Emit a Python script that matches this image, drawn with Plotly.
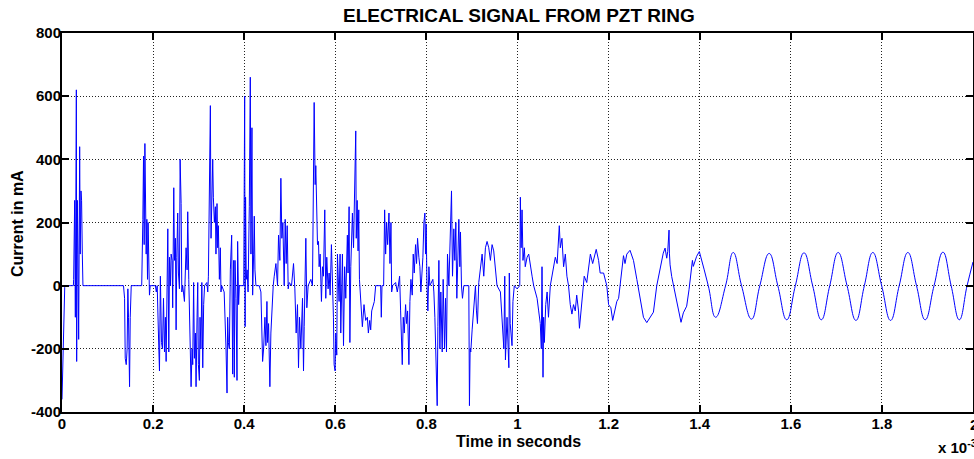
import plotly.graph_objects as go

# ---------------- data (time in ms, current in mA) ----------------
tA = [0.000, 0.004, 0.006, 0.008, 0.025, 0.0256, 0.0278, 0.0293, 0.0300, 0.0315,
      0.0322, 0.0337, 0.0350, 0.0366, 0.0388, 0.0400, 0.0417, 0.0430, 0.0446, 0.0460,
      0.1350, 0.1374, 0.1388, 0.1410, 0.1430, 0.1446, 0.1460, 0.1483, 0.1498, 0.1520,
      0.1750, 0.1760, 0.1775, 0.1790, 0.1804, 0.1820, 0.1834, 0.1848, 0.1863, 0.1877,
      0.1890, 0.1906, 0.1920, 0.1936, 0.2050, 0.2070, 0.2090, 0.2126, 0.2140, 0.2160,
      0.2184, 0.2206, 0.2228, 0.2250, 0.2270, 0.2286, 0.2300, 0.2323, 0.2345, 0.2360,
      0.2380, 0.2396, 0.2418, 0.2430, 0.2454, 0.2469, 0.2490, 0.2505, 0.2520, 0.2540,
      0.2556, 0.2578, 0.2593, 0.2615, 0.2630, 0.2650, 0.2688, 0.2724, 0.2746, 0.2760,
      0.2783, 0.2797, 0.2810, 0.2834, 0.2856, 0.2870, 0.2890, 0.2907, 0.2929, 0.2943,
      0.2965, 0.2980, 0.2994, 0.3016, 0.3030, 0.3050, 0.3070, 0.3090, 0.3110, 0.3130,
      0.3180, 0.3200]
iA = [-360, -150, -5, 0, 0, 20, 270, -100, 170, 620,
      -240, 270, 100, -170, 440, 100, 300, 270, 100, 0,
      0, -40, -230, -250, -200, -10, -100, -320, -100, 0,
      0, 200, 210, 410, 130, 450, 200, 100, 210, 20,
      200, 50, -30, 0, 0, -20, 0, -200, -270, 30,
      -180, -200, -40, -210, -100, -240, -50, 180, -210, 90,
      0, 100, 80, -70, 310, 80, 150, -140, 90, 230,
      40, -10, 400, 260, -20, 0, -50, 120, 50, 234,
      20, -80, -150, -320, -200, -250, 10, -230, -150, -320,
      -100, 10, -250, -300, -100, -200, 10, -260, -60, 0,
      10, -20]

tB = [0.3214, 0.3236, 0.3257, 0.3272, 0.3287, 0.3309, 0.3323, 0.3345, 0.3367, 0.3380,
      0.3403, 0.3418, 0.3433, 0.3455, 0.3476, 0.3490, 0.3506, 0.3560, 0.3601, 0.3623,
      0.3637, 0.3652, 0.3674, 0.3696, 0.3725, 0.3747, 0.3769, 0.3783, 0.3798, 0.3820,
      0.3842, 0.3856, 0.3878, 0.3893, 0.3990, 0.4000, 0.4010, 0.4020, 0.4030, 0.4045,
      0.4065, 0.4085, 0.4112, 0.4134, 0.4148, 0.4170, 0.4185, 0.4207, 0.4221, 0.4236,
      0.4258, 0.4330, 0.4367, 0.4404, 0.4426, 0.4455, 0.4477, 0.4499, 0.4513, 0.4535,
      0.4564, 0.4586, 0.4608, 0.4637, 0.4659, 0.4696, 0.4732, 0.4754, 0.4783, 0.4805,
      0.4827, 0.4849, 0.4878, 0.4900, 0.4922, 0.4944, 0.4966, 0.4988, 0.5039, 0.5083,
      0.5112, 0.5141, 0.5170, 0.5192, 0.5214, 0.5244, 0.5280, 0.5302, 0.5317, 0.5353,
      0.5375, 0.5404, 0.5463, 0.5499, 0.5536, 0.5558, 0.5572, 0.5594, 0.5609, 0.5631,
      0.5645, 0.5667, 0.5696, 0.5718, 0.5740, 0.5769, 0.5791, 0.5813, 0.5842, 0.5864,
      0.5886, 0.5915, 0.5937, 0.5959, 0.5974, 0.5996, 0.6010, 0.6032, 0.6047, 0.6083,
      0.6105, 0.6120, 0.6157, 0.6180, 0.6205, 0.6230, 0.6265, 0.6280, 0.6303, 0.6320,
      0.6340, 0.6376, 0.6400, 0.6425, 0.6449, 0.6460, 0.6480, 0.6500, 0.6515, 0.6530]
iB = [30, 290, 570, 150, 250, 400, 280, 200, 250, 100,
      260, 120, 190, 20, 120, -20, 0, -20, -200, -340,
      -100, -180, -200, 50, 160, -280, 80, -290, 80, -40,
      -300, 140, -60, 0, 0, 300, 600, -130, 280, 20,
      50, -20, 250, 660, 100, 500, -30, 100, 220, 50,
      0, 0, -20, -240, -200, -100, -190, -50, -180, -120,
      -320, -150, -60, 0, 30, 70, 0, 160, 80, 340,
      150, 200, 0, 210, 70, 190, -10, 10, 0, 70,
      -10, -150, -60, -260, -100, -200, -40, -270, -130, 150,
      -70, 0, 20, 0, 580, 320, 380, 180, 130, 140,
      60, 100, -50, 60, 30, 240, -40, 90, -10, 40,
      -30, 130, 20, -100, -250, -270, -150, -220, 100, -50,
      100, -150, 100, -190, 60, -40, 160, 40, 250, -180,
      60, 230, 120, 290, 490, 150, 270, 110, 240, 20]

tC = [0.6565, 0.6594, 0.6630, 0.6667, 0.6704, 0.6726, 0.6755, 0.6777, 0.6799, 0.6828,
      0.6857, 0.6886, 0.6996, 0.7010, 0.7025, 0.7061, 0.7083, 0.7105, 0.7127, 0.7149,
      0.7178, 0.7200, 0.7222, 0.7237, 0.7259, 0.7324, 0.7361, 0.7383, 0.7412, 0.7434,
      0.7456, 0.7470, 0.7492, 0.7514, 0.7543, 0.7565, 0.7587, 0.7616, 0.7638, 0.7660,
      0.7689, 0.7711, 0.7733, 0.7762, 0.7784, 0.7806, 0.7835, 0.7857, 0.7879, 0.7901,
      0.7923, 0.7945, 0.7967, 0.7981, 0.7996, 0.8010, 0.8032, 0.8055, 0.8076, 0.8142,
      0.8164, 0.8186, 0.8201, 0.8222, 0.8237, 0.8252, 0.8274, 0.8296, 0.8317, 0.8347,
      0.8368, 0.8398, 0.8420, 0.8441, 0.8463, 0.8493, 0.8529, 0.8551, 0.8573, 0.8602,
      0.8624, 0.8646, 0.8668, 0.8690, 0.8712, 0.8734, 0.8748, 0.8770, 0.8792, 0.8821,
      0.8931, 0.8945, 0.8960, 0.8974, 0.9004, 0.9040, 0.9077, 0.9099, 0.9121, 0.9150,
      0.9186, 0.9223, 0.9259, 0.9296, 0.9332, 0.9369, 0.9405, 0.9442, 0.9478]
iC = [-60, -130, -60, -110, -100, -150, -110, -140, -80, -60,
      -50, 0, 0, -100, 0, 0, 240, 100, 200, 130,
      230, 70, 200, -20, 0, 10, -20, 0, 30, -80,
      -200, -250, -100, -150, -60, -120, -80, -250, -50, 20,
      -30, 100, 40, 130, 70, 150, 90, 60, -20, 30,
      90, 200, 230, 100, 195, 20, -80, 60, 0, 20,
      -20, -100, -200, -300, -380, -130, 80, -200, -20, -210,
      20, -200, -40, -210, 100, 0, 200, 300, 30, 180,
      80, 200, -40, 60, 210, 60, 170, 0, -40, 0,
      0, -380, -200, -210, -140, -60, 0, -80, -120, 10,
      60, 100, 30, 120, 140, 120, 80, 130, 110]

tD = [0.9550, 0.9625, 0.9660, 0.9700, 0.9720, 0.9735, 0.9770, 0.9810, 0.9820, 0.9840,
      0.9880, 0.9900, 0.9930, 0.9990, 1.0050, 1.0063, 1.0080, 1.0100, 1.0120, 1.0150,
      1.0170, 1.0210, 1.0246, 1.0280, 1.0320, 1.0355, 1.0390, 1.0430, 1.0465, 1.0500,
      1.0523, 1.0538, 1.0560, 1.0574, 1.0590, 1.0620, 1.0650, 1.0680, 1.0720, 1.0757,
      1.0790, 1.0830, 1.0870, 1.0918, 1.0940, 1.0976, 1.1012, 1.1050, 1.1085, 1.1120,
      1.1158, 1.1195, 1.1230, 1.1268, 1.1300, 1.1340, 1.1360, 1.1390, 1.1436, 1.1465,
      1.1520, 1.1560, 1.1600, 1.1650, 1.1684, 1.1728, 1.1780, 1.1815, 1.1890, 1.1960,
      1.2000, 1.2050, 1.2090, 1.2145, 1.2180, 1.2220, 1.2254, 1.2290, 1.2327, 1.2360,
      1.2400, 1.2470, 1.2546, 1.2620, 1.2690, 1.2765, 1.2838, 1.2910, 1.2984, 1.3057,
      1.3108, 1.3166, 1.3200, 1.3240, 1.3276, 1.3298, 1.3327, 1.3335, 1.3350, 1.3385,
      1.3458, 1.3531, 1.3590, 1.3641, 1.3714, 1.3765, 1.3810, 1.3840, 1.3860, 1.3933,
      1.3992]
iD = [0, -20, -120, -200, 30, -235, -100, -260, 40, -120,
      -190, -50, 0, -10, 0, 280, 120, 240, 80, 120,
      60, 90, 100, 60, 30, 0, -20, -40, -80, -120,
      -200, 60, -290, -100, -180, -60, -20, -100, 0, 30,
      60, 90, 70, 190, 120, 150, 60, 100, 30, 0,
      -60, -90, -60, -80, -30, -80, -135, -80, -20, 30,
      10, 60, 100, 70, 90, 115, 80, 40, 40, 0,
      -60, -70, -110, -70, -50, -40, 0, 50, 95, 70,
      100, 112, 80, 20, -40, -100, -117, -100, -84, 0,
      39, 77, 103, 119, 87, 108, 176, 103, 66, 29,
      -24, -81, -116, -86, -65, -13, 45, 80, 61, 93,
      108]

# steady oscillation: peaks, zero crossings and troughs
tE = [1.3992, 1.4188, 1.4349, 1.4568, 1.4736, 1.4919, 1.5138, 1.5320, 1.5525, 1.5715,
      1.5910, 1.6100, 1.6290, 1.6480, 1.6670, 1.6855, 1.7040, 1.7235, 1.7430, 1.7615,
      1.7800, 1.7995, 1.8190, 1.8380, 1.8570, 1.8760, 1.8950, 1.9145, 1.9340, 1.9520,
      1.9700, 1.9870, 2.0000]
iE = [108, 0, -100, 0, 105, 0, -106, 0, 102, 0,
      -108, 0, 104, 0, -108, 0, 105, 0, -110, 0,
      105, 0, -110, 0, 105, 0, -108, 0, 106, 0,
      -108, 0, 75]

x_ticks = [0, 0.2, 0.4, 0.6, 0.8, 1.0, 1.2, 1.4, 1.6, 1.8, 2.0]
x_labels = ["0", "0.2", "0.4", "0.6", "0.8", "1", "1.2", "1.4", "1.6", "1.8", "2"]
y_ticks = [-400, -200, 0, 200, 400, 600, 800]
y_labels = ["-400", "-200", "0", "200", "400", "600", "800"]

for a, b in [(tA, iA), (tB, iB), (tC, iC), (tD, iD), (tE, iE)]:
    assert len(a) == len(b)

t_noisy = tA + tB + tC + tD
i_noisy = iA + iB + iC + iD

W, H = 974, 459
L, R, T, B = 62, 1, 33, 47
FONT = "Liberation Sans, Arial, sans-serif"

fig = go.Figure()
fig.add_trace(go.Scatter(x=t_noisy, y=i_noisy, mode="lines",
                         line=dict(color="#0000FF", width=1), hoverinfo="skip"))
fig.add_trace(go.Scatter(x=tE, y=iE, mode="lines",
                         line=dict(color="#0000FF", width=1, shape="spline", smoothing=1.3),
                         hoverinfo="skip"))

axis_common = dict(
    showline=True, linewidth=2, linecolor="black", mirror="allticks",
    ticks="inside", ticklen=7, tickwidth=2, tickcolor="black",
    showgrid=True, gridcolor="#222222", gridwidth=1, griddash="1px,2px",
    zeroline=False, automargin=False,
    tickfont=dict(family=FONT, size=15, color="black", weight="bold"),
)
fig.update_xaxes(range=[0, 2], tickmode="array", tickvals=x_ticks, ticktext=x_labels,
                 ticklabelstandoff=-3, **axis_common)
fig.update_yaxes(range=[-400, 800], tickmode="array", tickvals=y_ticks, ticktext=y_labels,
                 ticklabelstandoff=-4, **axis_common)

ph = H - T - B
pw = W - L - R
fig.update_layout(
    width=W, height=H,
    margin=dict(l=L, r=R, t=T, b=B, pad=0),
    plot_bgcolor="white", paper_bgcolor="white",
    showlegend=False,
    annotations=[
        dict(text="ELECTRICAL SIGNAL FROM PZT RING", xref="paper", yref="paper",
             x=(519 - L) / pw, y=1 + (T - 15) / ph, xanchor="center", yanchor="middle",
             showarrow=False, font=dict(family=FONT, size=19, color="black", weight="bold")),
        dict(text="Time in seconds", xref="paper", yref="paper",
             x=(518.5 - L) / pw, y=-(441 - (H - B)) / ph, xanchor="center", yanchor="middle",
             showarrow=False, font=dict(family=FONT, size=16, color="black", weight="bold")),
        dict(text="Current in mA", xref="paper", yref="paper", textangle=-90,
             x=(17 - L) / pw, y=1 - (224 - T) / ph, xanchor="center", yanchor="middle",
             showarrow=False, font=dict(family=FONT, size=16, color="black", weight="bold")),
        dict(text="x 10<sup>-3</sup>", xref="paper", yref="paper",
             x=(936 - L) / pw, y=-(446 - (H - B)) / ph, xanchor="left", yanchor="middle",
             showarrow=False, font=dict(family=FONT, size=15, color="black", weight="bold")),
        dict(text="2", xref="paper", yref="paper",
             x=(968 - L) / pw, y=-(424 - (H - B)) / ph, xanchor="left", yanchor="middle",
             showarrow=False, font=dict(family=FONT, size=15, color="black", weight="bold")),
    ],
)

fig.write_html("out.html", config={"displayModeBar": False},
               post_script="document.body.style.margin='0';document.body.style.overflow='hidden';")
